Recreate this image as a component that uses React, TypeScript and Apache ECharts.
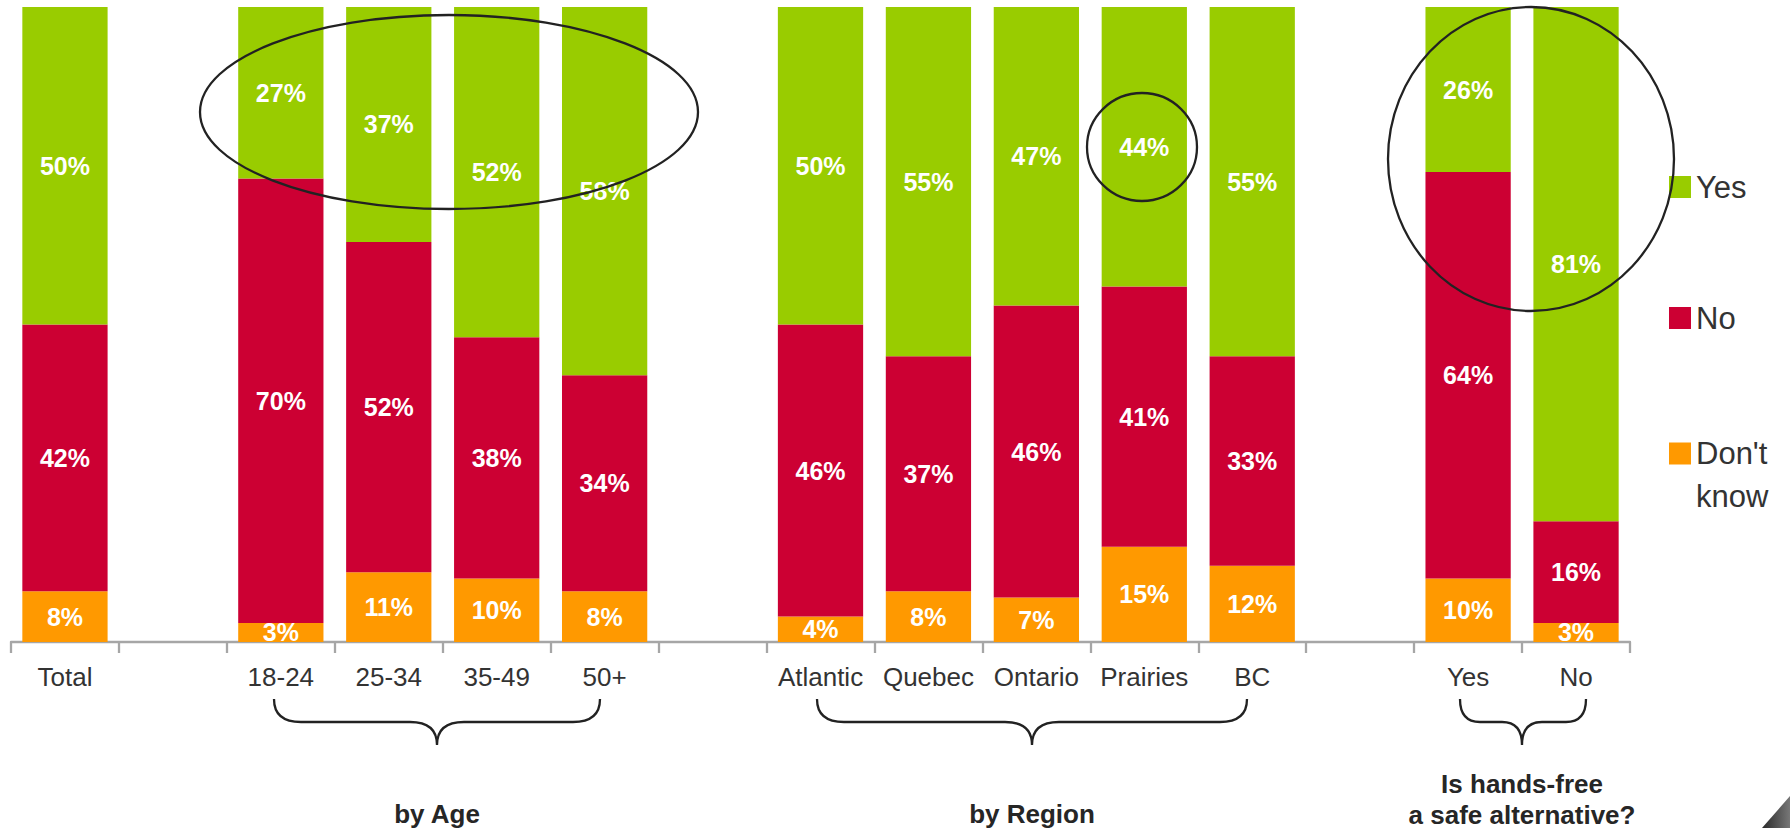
import React, { useEffect, useRef } from "react";
import * as echarts from "echarts";

const categories = ["Total", "", "18-24", "25-34", "35-49", "50+", "", "Atlantic", "Quebec", "Ontario", "Prairies", "BC", "", "Yes", "No"];
const yesValues = [50, null, 27, 37, 52, 58, null, 50, 55, 47, 44, 55, null, 26, 81];
const noValues = [42, null, 70, 52, 38, 34, null, 46, 37, 46, 41, 33, null, 64, 16];
const dontKnowValues = [8, null, 3, 11, 10, 8, null, 4, 8, 7, 15, 12, null, 10, 3];

const seriesNames = ["Yes", "No", "Don't know"];
const groupTitles = ["by Age", "by Region", "Is hands-free\na safe alternative?"];

const GREEN = "#99CC00";
const RED = "#CC0033";
const ORANGE = "#FF9900";
const FONT = "'Liberation Sans', Arial, sans-serif";

function bracePath(x1: number, x2: number, cx: number, y0: number, r: number) {
  const y1 = y0 + 23;
  const y2 = y0 + 46;
  return `M${x1} ${y0} Q${x1} ${y1} ${x1 + r} ${y1} L${cx - r} ${y1} Q${cx} ${y1} ${cx} ${y2} Q${cx} ${y1} ${cx + r} ${y1} L${x2 - r} ${y1} Q${x2} ${y1} ${x2} ${y0}`;
}

export default function App() {
  const ref = useRef<HTMLDivElement>(null);

  useEffect(() => {
    document.body.style.margin = "0";
    if (!ref.current) return;
    echarts.graphic.registerShape("braceAge", echarts.graphic.extendPath(bracePath(274, 600, 437, 699, 27), {}));
    echarts.graphic.registerShape("braceRegion", echarts.graphic.extendPath(bracePath(817, 1247, 1032, 699, 27), {}));
    echarts.graphic.registerShape("braceHF", echarts.graphic.extendPath(bracePath(1460, 1586, 1522, 699, 20), {}));

    const chart = echarts.init(ref.current, null, { renderer: "svg" });

    const label = {
      show: true,
      position: "inside",
      color: "#fff",
      fontWeight: "bold",
      fontSize: 25,
      fontFamily: FONT,
      formatter: (p: any) => (p.value == null ? "" : `${p.value}%`),
    };

    const legendText = { fontSize: 31, color: "#333", fontFamily: FONT };
    const lineStroke = { fill: "none", stroke: "#222", lineWidth: 2.3 };
    const titleStyle = {
      fontSize: 26,
      fontWeight: "bold",
      fontFamily: FONT,
      fill: "#262626",
      align: "center",
      verticalAlign: "middle",
      lineHeight: 31,
    };
    const legendBase = {
      orient: "vertical",
      left: 1664,
      itemWidth: 22,
      itemHeight: 22,
      icon: "rect",
      selectedMode: false,
    };

    chart.setOption({
      animation: false,
      grid: { left: 11, right: 160, top: 7, bottom: 186 },
      xAxis: {
        type: "category",
        data: categories,
        axisLine: { lineStyle: { color: "#A6A6A6", width: 2.3 } },
        axisTick: { show: true, alignWithLabel: false, length: 11, lineStyle: { color: "#A6A6A6", width: 2.3 } },
        axisLabel: { fontSize: 26, color: "#333", fontFamily: FONT, margin: 22, interval: 0 },
      },
      yAxis: { type: "value", min: 0, max: 100, show: false, splitLine: { show: false } },
      legend: [
        { ...legendBase, data: [seriesNames[0]], top: 164, textStyle: { ...legendText, lineHeight: 36 } },
        { ...legendBase, data: [seriesNames[1]], top: 295, textStyle: { ...legendText, lineHeight: 36 } },
        {
          ...legendBase,
          data: [seriesNames[2]],
          top: 384,
          formatter: () => " \nDon't\nknow",
          textStyle: { ...legendText, lineHeight: 43 },
        },
      ],
      series: [
        {
          name: seriesNames[2],
          type: "bar",
          stack: "s",
          data: dontKnowValues,
          barCategoryGap: "21%",
          itemStyle: { color: ORANGE },
          label,
        },
        {
          name: seriesNames[1],
          type: "bar",
          stack: "s",
          data: noValues,
          barCategoryGap: "21%",
          itemStyle: { color: RED },
          label,
        },
        {
          name: seriesNames[0],
          type: "bar",
          stack: "s",
          data: yesValues,
          barCategoryGap: "21%",
          itemStyle: { color: GREEN },
          label,
        },
      ],
      graphic: [
        { type: "ellipse", shape: { cx: 449, cy: 112, rx: 249, ry: 97 }, style: lineStroke, z: 100 },
        { type: "ellipse", shape: { cx: 1142, cy: 147, rx: 55, ry: 54 }, style: lineStroke, z: 100 },
        { type: "ellipse", shape: { cx: 1531, cy: 159, rx: 143, ry: 152 }, style: lineStroke, z: 100 },
        { type: "braceAge", x: 0, y: 0, style: lineStroke, z: 100 },
        { type: "braceRegion", x: 0, y: 0, style: lineStroke, z: 100 },
        { type: "braceHF", x: 0, y: 0, style: lineStroke, z: 100 },
        { type: "text", x: 437, y: 814, style: { ...titleStyle, text: groupTitles[0] }, z: 100 },
        { type: "text", x: 1032, y: 814, style: { ...titleStyle, text: groupTitles[1] }, z: 100 },
        { type: "text", x: 1522, y: 799, style: { ...titleStyle, text: groupTitles[2] }, z: 100 },
        {
          type: "polygon",
          shape: { points: [[1762, 828], [1790, 796], [1790, 828]] },
          style: {
            fill: new echarts.graphic.LinearGradient(0, 0, 1, 0, [
              { offset: 0, color: "#2a2a2a" },
              { offset: 1, color: "#777777" },
            ]),
          },
          z: 100,
        },
      ],
    });

    return () => chart.dispose();
  }, []);

  return <div ref={ref} style={{ width: 1790, height: 828 }} />;
}
